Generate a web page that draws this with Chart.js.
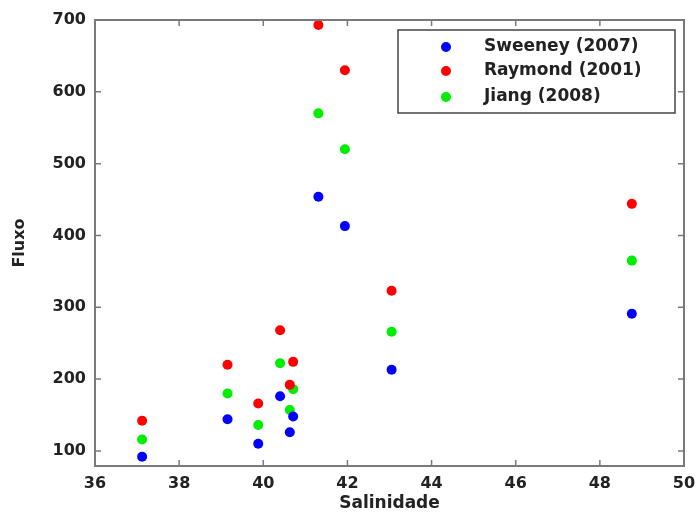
<!DOCTYPE html>
<html>
<head>
<meta charset="utf-8">
<script src="https://cdn.jsdelivr.net/npm/chart.js@4/dist/chart.umd.min.js"></script>
<style>
  html, body { margin: 0; padding: 0; background: #fff; }
  #wrap { width: 697px; height: 514px; }
</style>
</head>
<body>
<div id="wrap"><canvas id="myChart" width="697" height="514"></canvas></div>
<script>
// salinity values (x) shared by all three series
let salinidade = [37.12, 39.15, 39.88, 40.4, 40.63, 40.71, 41.31, 41.94, 43.05, 48.76]

let sweeney = [92, 144, 110, 176, 126, 148, 454, 413, 213, 291]
let raymond = [142, 220, 166, 268, 192, 224, 693, 630, 323, 444]
let jiang = [116, 180, 136, 222, 157, 186, 570, 520, 266, 365]

let seriesNames = ['Sweeney (2007)', 'Raymond (2001)', 'Jiang (2008)']
let seriesColors = ['#0000ff', '#ff0000', '#00ee00']

let xTicks = [36, 38, 40, 42, 44, 46, 48, 50]
let yTicks = [100, 200, 300, 400, 500, 600, 700]

const fontFam = '"DejaVu Sans", Arial, sans-serif'
const axisGrey = '#7a7a7a'

function toPoints(ys) {
    return ys.map((y, i) => ({ x: salinidade[i], y: y }))
}

// frame + inward ticks on all four sides (matlab style)
const frameTicks = {
    id: 'frameTicks',
    afterDatasetsDraw(chart) {
        const ctx = chart.ctx
        const a = chart.chartArea
        const xs = chart.scales.x
        const ys = chart.scales.y
        ctx.save()
        ctx.strokeStyle = axisGrey
        ctx.lineWidth = 2
        ctx.strokeRect(a.left, a.top, a.right - a.left, a.bottom - a.top)
        ctx.lineWidth = 1.5
        ctx.beginPath()
        xTicks.forEach(v => {
            const px = xs.getPixelForValue(v)
            ctx.moveTo(px, a.bottom); ctx.lineTo(px, a.bottom - 6)
            ctx.moveTo(px, a.top); ctx.lineTo(px, a.top + 6)
        })
        yTicks.forEach(v => {
            const py = ys.getPixelForValue(v)
            ctx.moveTo(a.left, py); ctx.lineTo(a.left + 6, py)
            ctx.moveTo(a.right, py); ctx.lineTo(a.right - 6, py)
        })
        ctx.stroke()
        ctx.restore()
    }
}

// legend box drawn inside the plot, top right
const boxLegend = {
    id: 'boxLegend',
    afterDraw(chart) {
        const ctx = chart.ctx
        const bx = 398, by = 30, bw = 277, bh = 83
        ctx.save()
        ctx.fillStyle = '#fff'
        ctx.fillRect(bx, by, bw, bh)
        ctx.strokeStyle = '#444'
        ctx.lineWidth = 1.5
        ctx.strokeRect(bx, by, bw, bh)
        ctx.font = 'bold 17px ' + fontFam
        ctx.textBaseline = 'middle'
        const rows = [47, 71, 97]
        chart.data.datasets.forEach((ds, i) => {
            ctx.fillStyle = ds.backgroundColor
            ctx.beginPath()
            ctx.arc(446, rows[i], 5, 0, Math.PI * 2)
            ctx.fill()
            ctx.fillStyle = '#222'
            ctx.fillText(ds.label, 484, rows[i])
        })
        ctx.restore()
    }
}

const data = {
    datasets: [
        { label: seriesNames[0], data: toPoints(sweeney), backgroundColor: seriesColors[0] },
        { label: seriesNames[1], data: toPoints(raymond), backgroundColor: seriesColors[1] },
        { label: seriesNames[2], data: toPoints(jiang), backgroundColor: seriesColors[2] }
    ]
}
data.datasets.forEach(ds => {
    ds.pointRadius = 5
    ds.pointBorderWidth = 0
    ds.borderColor = ds.backgroundColor
})

const config = {
    type: 'scatter',
    data,
    options: {
        responsive: false,
        animation: false,
        layout: { padding: { left: 10, right: 13, top: 20, bottom: 0 } },
        plugins: {
            legend: { display: false },
            tooltip: { enabled: false }
        },
        scales: {
            x: {
                type: 'linear',
                min: 36,
                max: 50,
                afterBuildTicks: s => { s.ticks = xTicks.map(v => ({ value: v })) },
                afterFit: s => {
                    s.height = 48
                    s.paddingLeft = 0
                    s.paddingRight = 0
                },
                grid: { display: false, drawTicks: false },
                border: { display: false },
                ticks: {
                    color: '#222',
                    padding: 8,
                    font: { family: fontFam, size: 16, weight: 'bold' }
                },
                title: {
                    display: true,
                    text: 'Salinidade',
                    color: '#222',
                    padding: { top: 0, bottom: 0 },
                    font: { family: fontFam, size: 17, weight: 'bold' }
                }
            },
            y: {
                type: 'linear',
                min: 79,
                max: 700,
                afterBuildTicks: s => { s.ticks = yTicks.map(v => ({ value: v })) },
                afterFit: s => {
                    s.width = 85
                    s.paddingTop = 0
                    s.paddingBottom = 0
                },
                grid: { display: false, drawTicks: false },
                border: { display: false },
                ticks: {
                    color: '#222',
                    padding: 9,
                    font: { family: fontFam, size: 16, weight: 'bold' }
                },
                title: {
                    display: true,
                    text: 'Fluxo',
                    color: '#222',
                    padding: { top: 0, bottom: 4 },
                    font: { family: fontFam, size: 16, weight: 'bold' }
                }
            }
        }
    },
    plugins: [frameTicks, boxLegend]
}

new Chart(document.getElementById('myChart'), config)
</script>
</body>
</html>
